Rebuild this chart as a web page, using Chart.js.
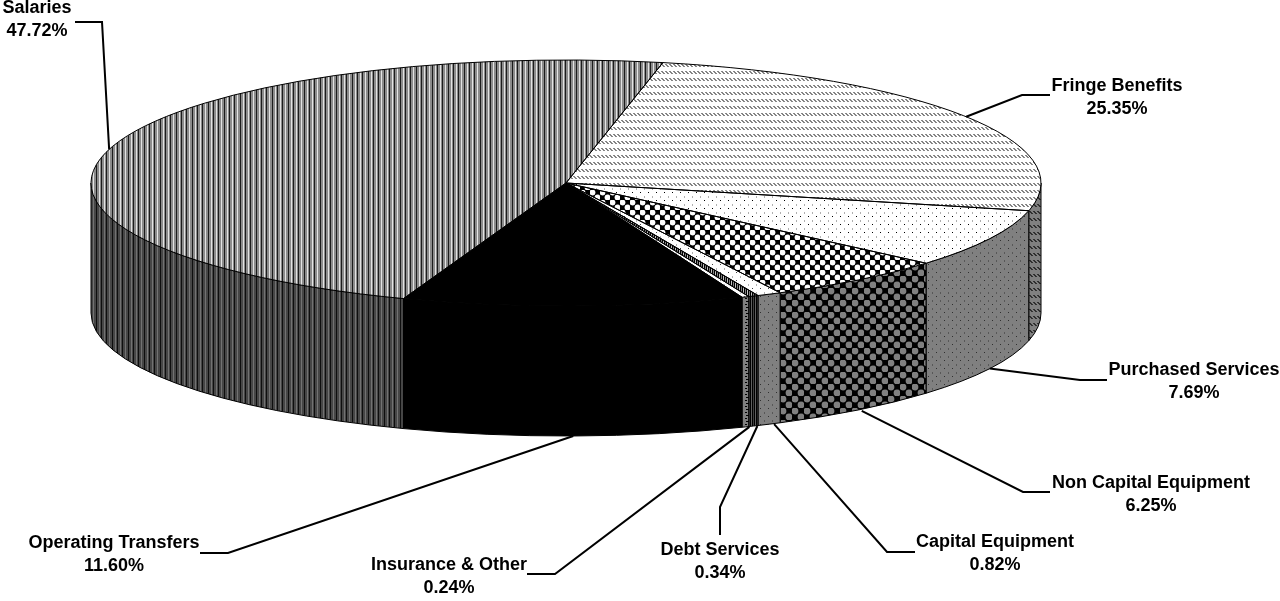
<!DOCTYPE html>
<html><head><meta charset="utf-8">
<style>html,body{margin:0;padding:0;background:#fff}canvas{display:block}</style>
<script src="https://cdn.jsdelivr.net/npm/chart.js@4/dist/chart.umd.js"></script>
</head><body><canvas id="c" width="1280" height="601"></canvas>
<script>
const categories = ['Salaries','Fringe Benefits','Purchased Services','Non Capital Equipment','Capital Equipment','Debt Services','Insurance & Other','Operating Transfers'];
const values = [47.72,25.35,7.69,6.25,0.82,0.34,0.24,11.60];

// page layout (not data)
const RX=475, RY=123, DEPTH=130, CX=566, CY=183;
const K=RY/RX;
const labelPos=[[37,8],[1117,86],[1194,370],[1151,483],[995,542],[720,550],[449,565],[114,543]];
const leaderEnd=[[75,22],[1050,95],[1107,380],[1050,492],[915,552],[720,535],[527,574],[200,553]];
const elbow=[[102,22],[1022,95],[1080,380],[1023,492],[887,552],[720,507],[555,574],[228,553]];
const leaderNudge=[[0,0],[0,0],[0,0],[3,1],[5,0],[4,0],[4,0],[0,0]];
const frontWall=[false,false,true,true,true,true,true,true];

function tile(w,h,draw){
  const c=document.createElement('canvas');c.width=w;c.height=h;
  const g=c.getContext('2d');
  const px=(x,y,col)=>{g.fillStyle=col;g.fillRect(x,y,1,1);};
  draw(g,px,w,h);
  return g.createPattern(c,'repeat');
}
const stripes=(cols)=>tile(cols.length,1,(g,px)=>cols.forEach((c,i)=>px(i,0,c)));
const dots=(bg,a,b)=>tile(8,8,(g,px)=>{g.fillStyle=bg;g.fillRect(0,0,8,8);px(0,0,a);px(4,4,b);px(4,5,b);});
const diag=(bg,fg)=>tile(4,7,(g,px)=>{g.fillStyle=bg;g.fillRect(0,0,4,7);
  for(let r=0;r<3;r++){px((r+1)%4,r+1,fg);px((r+2)%4,r+1,fg);}});
const discs=(n,r,bg,fg)=>tile(n,n,(g)=>{g.fillStyle=bg;g.fillRect(0,0,n,n);g.fillStyle=fg;
  [[n/4,n/4],[3*n/4,3*n/4]].forEach(([x,y])=>{g.beginPath();g.arc(x,y,r,0,Math.PI*2);g.fill();});});
const dash=(bg,fg)=>tile(8,6,(g,px)=>{g.fillStyle=bg;g.fillRect(0,0,8,6);g.fillStyle=fg;g.fillRect(2,1,3,1);g.fillRect(1,4,2,1);});
const s1=(a,b,c)=>[a,b,b,c,b, a,b,b,c,b, a,b,b,c,b,b];

const topFill=[
  stripes(s1('#1c1c1c','#8c8c8c','#e4e4e4')),
  diag('#fff','#858585'),
  dots('#fff','#000','#b0b0b0'),
  discs(10,2.9,'#000','#fff'),
  dots('#fff','#404040','#b0b0b0'),
  stripes(['#000','#808080','#000','#c0c0c0']),
  dots('#fff','#808080','#c0c0c0'),
  '#000'
];
const sideFill=[
  stripes(s1('#0e0e0e','#464646','#727272')),
  diag('#808080','#303030'),
  dots('#808080','#303030','#585858'),
  discs(12,3.4,'#000','#808080'),
  dots('#808080','#303030','#585858'),
  stripes(['#000','#404040','#000','#606060']),
  dash('#808080','#000'),
  '#000'
];
// keep pattern pixels square after the top face is flattened
const inv=new DOMMatrix([1,0,0,1/K,0,CY-CY/K]);
topFill.forEach(p=>{if(p instanceof CanvasPattern)p.setTransform(inv);});

const pie3d={
  id:'pie3d',
  beforeDatasetsDraw(chart){
    const ctx=chart.ctx, arcs=chart.getDatasetMeta(0).data;
    ctx.save();ctx.lineWidth=1;ctx.strokeStyle='#000';
    arcs.forEach((a,i)=>{
      [[0,Math.PI],[2*Math.PI,3*Math.PI]].forEach(([lo,hi])=>{
        const s=Math.max(a.startAngle,lo), e=Math.min(a.endAngle,hi);
        if(e<=s)return;
        ctx.beginPath();
        ctx.ellipse(a.x,a.y,a.outerRadius,a.outerRadius*K,0,s,e);
        ctx.ellipse(a.x,a.y+DEPTH,a.outerRadius,a.outerRadius*K,0,e,s,true);
        ctx.closePath();
        ctx.fillStyle=sideFill[i];ctx.fill();ctx.stroke();
      });
    });
    ctx.restore();
    ctx.save();
    ctx.translate(0,CY);ctx.scale(1,K);ctx.translate(0,-CY);
  },
  afterDatasetsDraw(chart){
    const ctx=chart.ctx, arcs=chart.getDatasetMeta(0).data;
    ctx.restore();
    ctx.save();
    ctx.lineWidth=1;ctx.strokeStyle='#000';
    arcs.forEach(a=>{
      ctx.beginPath();
      ctx.moveTo(a.x,a.y);
      ctx.ellipse(a.x,a.y,a.outerRadius,a.outerRadius*K,0,a.startAngle,a.endAngle);
      ctx.closePath();ctx.stroke();
    });
    ctx.lineWidth=2;
    ctx.font='bold 18px "Liberation Sans"';
    ctx.textAlign='center';ctx.textBaseline='middle';ctx.fillStyle='#000';
    arcs.forEach((a,i)=>{
      const m=(a.startAngle+a.endAngle)/2;
      const x=a.x+a.outerRadius*Math.cos(m)+leaderNudge[i][0];
      const y=a.y+a.outerRadius*K*Math.sin(m)+(frontWall[i]?DEPTH:0)+leaderNudge[i][1];
      ctx.beginPath();ctx.moveTo(x,y);ctx.lineTo(elbow[i][0],elbow[i][1]);ctx.lineTo(leaderEnd[i][0],leaderEnd[i][1]);ctx.stroke();
      ctx.fillText(categories[i],labelPos[i][0],labelPos[i][1]);
      ctx.fillText(values[i].toFixed(2)+'%',labelPos[i][0],labelPos[i][1]+23);
    });
    ctx.restore();
  }
};

new Chart(document.getElementById('c'),{
  type:'pie',
  data:{labels:categories,datasets:[{data:values,backgroundColor:topFill,borderWidth:0,clip:false,radius:RX}]},
  options:{
    responsive:false,animation:false,devicePixelRatio:1,rotation:200,
    events:[],
    layout:{padding:{left:0,top:0,right:1280-2*CX,bottom:601-2*CY}},
    plugins:{legend:{display:false},tooltip:{enabled:false}}
  },
  plugins:[pie3d]
});
</script></body></html>
